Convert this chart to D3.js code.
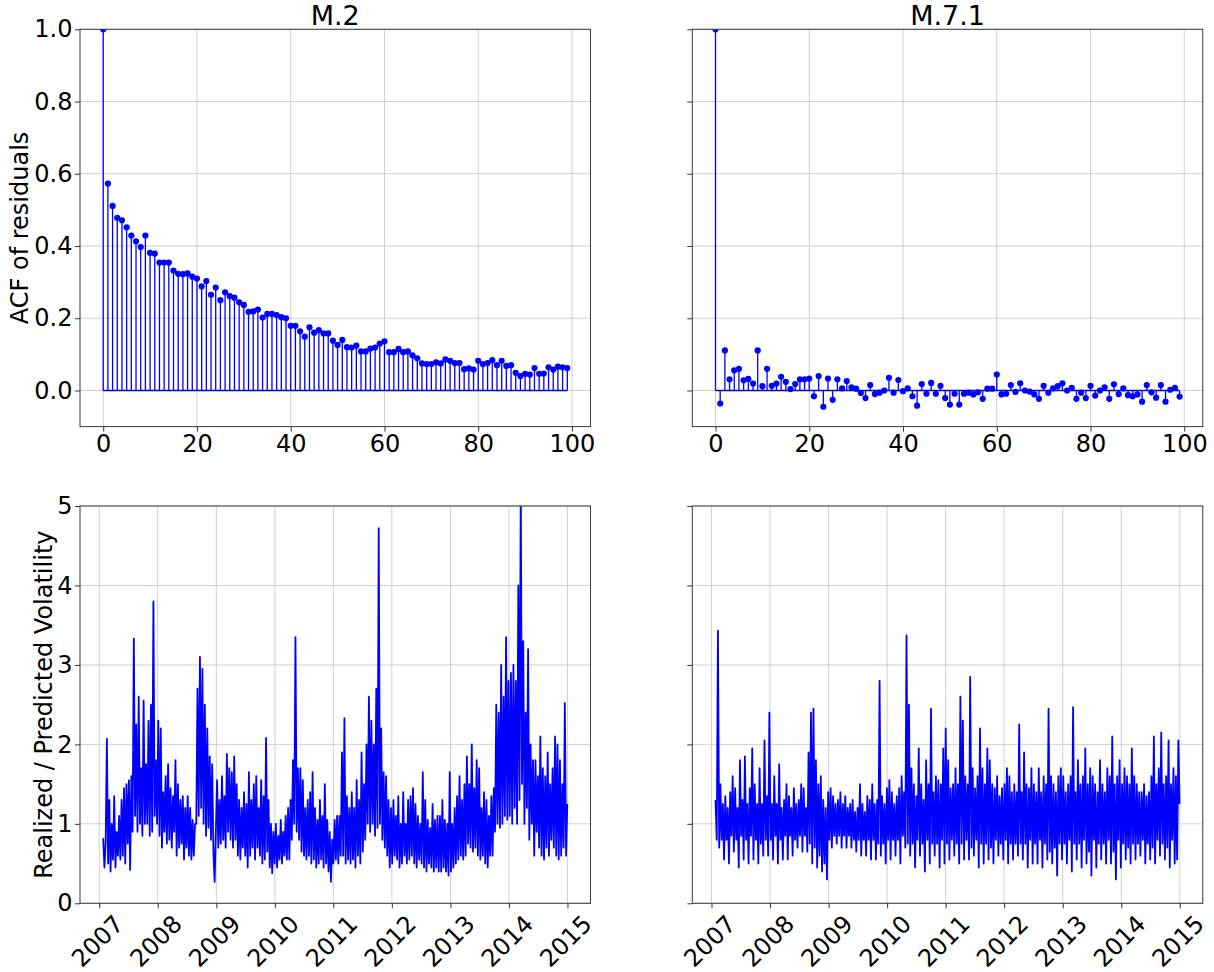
<!DOCTYPE html>
<html>
<head>
<meta charset="utf-8">
<script src="https://cdn.jsdelivr.net/npm/d3@7"></script>
<style>
  body { margin: 0; background: #fff; }
  text { font-family: "DejaVu Sans", sans-serif; fill: #000; }
</style>
</head>
<body>
<div id="chart"></div>
<script>
// ACF of residuals, lags 0..99
const acfM2 = [1.0, 0.573, 0.511, 0.478, 0.471, 0.452, 0.429, 0.413, 0.397, 0.429,
  0.381, 0.379, 0.354, 0.354, 0.354, 0.332, 0.323, 0.322, 0.324, 0.315,
  0.310, 0.288, 0.303, 0.265, 0.285, 0.250, 0.272, 0.261, 0.257, 0.244,
  0.237, 0.218, 0.219, 0.224, 0.202, 0.212, 0.212, 0.209, 0.203, 0.200,
  0.179, 0.179, 0.164, 0.149, 0.175, 0.160, 0.167, 0.158, 0.158, 0.138,
  0.126, 0.140, 0.120, 0.119, 0.124, 0.108, 0.108, 0.116, 0.119, 0.130,
  0.136, 0.106, 0.106, 0.115, 0.106, 0.108, 0.097, 0.089, 0.075, 0.073,
  0.073, 0.078, 0.075, 0.086, 0.082, 0.076, 0.076, 0.059, 0.061, 0.058,
  0.082, 0.073, 0.076, 0.084, 0.070, 0.082, 0.068, 0.070, 0.049, 0.040,
  0.046, 0.044, 0.062, 0.046, 0.047, 0.064, 0.058, 0.066, 0.064, 0.062];

const acfM71 = [1.0, -0.036, 0.111, 0.031, 0.056, 0.060, 0.028, 0.032, 0.019, 0.111,
  0.012, 0.060, 0.013, 0.019, 0.038, 0.024, 0.004, 0.018, 0.031, 0.031,
  0.033, -0.016, 0.040, -0.045, 0.033, -0.026, 0.031, 0.006, 0.026, 0.009,
  0.005, -0.007, -0.021, 0.015, -0.010, -0.006, 0.000, 0.035, -0.006, 0.029,
  -0.002, 0.006, -0.016, -0.042, 0.018, -0.009, 0.021, -0.009, 0.013, -0.021,
  -0.039, -0.009, -0.039, -0.009, -0.006, -0.011, -0.005, -0.023, 0.005, 0.005,
  0.044, -0.011, -0.009, 0.015, -0.004, 0.020, 0.000, -0.003, -0.011, -0.023,
  0.013, -0.006, 0.006, 0.012, 0.020, 0.000, 0.007, -0.023, -0.006, -0.021,
  0.013, -0.014, 0.000, 0.009, -0.023, 0.017, -0.010, 0.006, -0.013, -0.016,
  -0.011, -0.031, 0.015, -0.005, -0.020, 0.015, -0.031, 0.002, 0.007, -0.017];

// Realized / predicted volatility, about four readings per month, Feb 2007 .. Dec 2014
const volM2 = [
  // 2007
  0.82,0.45,0.75,2.07, 0.5,1.3,0.4,1.0, 0.55,1.35,0.45,0.9, 0.6,1.1,0.55,1.3, 0.6,1.45,0.5,1.5, 0.75,1.55,0.42,1.6,
  0.9,3.33,1.1,2.25, 0.9,2.6,1.0,1.7, 0.85,2.55,1.0,1.75, 1.0,2.3,0.85,2.5, 0.9,3.8,1.1,1.8,
  // 2008
  1.0,2.3,0.85,2.2, 0.7,1.4,0.9,1.6, 0.75,1.75,0.8,1.45, 0.7,1.35,0.9,1.8, 0.6,1.5,0.7,1.3, 0.75,1.35,0.55,1.2,
  0.7,1.35,0.6,1.2, 0.55,1.05,0.6,1.0, 1.0,2.7,1.1,3.1, 1.2,2.95,1.0,2.5, 0.85,2.2,0.95,1.85, 0.8,1.75,0.65,0.27,
  // 2009
  0.9,1.55,0.7,1.3, 0.75,1.6,0.8,1.35, 0.7,1.88,0.9,1.7, 0.8,1.65,0.7,1.85, 0.8,1.5,0.6,1.3, 0.55,1.2,0.7,1.4,
  0.6,1.25,0.45,1.65, 0.6,1.3,0.7,1.5, 0.55,1.6,0.7,1.2, 0.6,1.55,0.5,1.35, 0.55,2.08,0.65,1.3, 0.45,1.0,0.38,0.9,
  // 2010
  0.5,1.0,0.45,0.85, 0.55,1.05,0.5,0.9, 0.6,1.1,0.55,1.2, 0.55,1.3,0.8,1.8, 1.0,3.35,0.9,1.7, 0.8,1.7,0.65,1.55,
  0.6,1.2,0.55,1.3, 0.6,1.4,0.5,1.65, 0.55,1.2,0.45,1.05, 0.5,1.3,0.55,1.1, 0.45,1.5,0.5,1.05, 0.4,0.9,0.27,0.8,
  // 2011
  0.5,1.05,0.55,1.1, 0.5,1.1,0.6,1.9, 0.6,2.33,0.5,1.35, 0.55,1.2,0.5,1.4, 0.55,1.2,0.45,1.55, 0.6,1.3,0.5,1.9,
  0.65,1.5,0.8,2.0, 1.0,2.6,0.9,2.3, 1.0,2.0,0.85,2.7, 0.95,4.72,1.0,2.2, 0.8,1.65,0.7,1.6, 0.6,1.3,0.45,1.2,
  // 2012
  0.5,1.3,0.6,1.1, 0.55,1.35,0.45,1.0, 0.5,1.4,0.6,1.0, 0.5,1.3,0.55,1.35, 0.6,1.45,0.5,1.25, 0.45,1.1,0.55,1.0,
  0.5,1.65,0.45,1.3, 0.4,1.05,0.5,0.95, 0.45,1.25,0.4,1.05, 0.45,1.1,0.4,1.1, 0.4,1.3,0.45,1.05, 0.4,1.0,0.35,1.65,
  // 2013
  0.4,1.0,0.45,1.2, 0.5,1.35,0.55,1.6, 0.6,1.3,0.55,1.5, 0.6,1.85,0.75,1.5, 0.7,2.0,0.65,1.45, 0.7,1.8,0.6,1.7,
  0.55,1.2,0.6,1.4, 0.5,1.3,0.45,1.1, 0.6,1.35,0.6,1.45, 0.9,2.5,1.0,2.4, 0.95,3.0,1.0,2.6, 1.1,3.35,1.05,2.8,
  // 2014
  1.1,2.9,1.0,3.0, 1.2,2.8,1.0,4.0, 1.3,5.3,1.5,3.3, 1.0,2.4,1.2,3.2, 0.8,2.0,1.0,1.8, 0.6,1.8,0.9,1.6,
  0.7,2.1,0.6,1.7, 0.55,1.6,0.7,1.9, 0.6,1.5,0.8,1.7, 0.7,2.1,0.6,2.0, 0.55,1.8,0.6,1.5, 0.7,2.52,0.6,1.25
];

const volM71 = [
  // 2007
  1.3,0.8,3.43,0.7, 1.5,0.8,1.25,0.55, 1.35,0.8,1.2,0.5, 1.4,0.85,1.6,0.65, 1.45,0.8,1.2,0.45, 1.8,0.85,1.3,0.55,
  1.85,0.8,1.25,0.5, 1.45,0.85,1.95,0.55, 1.5,0.8,1.25,0.5, 1.7,0.75,1.25,0.6, 2.05,0.8,1.35,0.6,
  // 2008
  2.4,0.8,1.25,0.55, 1.6,0.85,1.25,0.5, 1.75,0.8,1.2,0.55, 1.3,0.85,1.5,0.55, 1.35,0.85,1.2,0.6, 1.45,0.8,1.25,0.7,
  1.3,0.85,1.5,0.65, 1.45,0.85,1.2,0.65, 1.9,0.75,2.4,0.5, 2.45,0.7,1.8,0.45, 1.5,0.6,1.6,0.4, 1.3,0.5,1.2,0.3,
  // 2009
  1.4,0.8,1.45,0.7, 1.35,0.85,1.25,0.75, 1.3,0.85,1.4,0.7, 1.25,0.85,1.35,0.7, 1.2,0.85,1.25,0.7, 1.3,0.8,1.15,0.65,
  1.2,0.8,1.5,0.6, 1.25,0.8,1.15,0.6, 1.35,0.8,1.3,0.55, 1.5,0.8,1.25,0.55, 1.3,0.75,2.8,0.6, 1.35,0.75,1.25,0.5,
  // 2010
  1.45,0.8,1.55,0.55, 1.4,0.8,1.25,0.6, 1.35,0.8,1.45,0.5, 1.6,0.85,1.4,0.7, 3.37,0.75,2.5,0.6, 1.7,0.75,1.5,0.45,
  1.35,0.8,1.95,0.6, 1.5,0.75,1.3,0.4, 1.8,0.8,1.5,0.5, 2.45,0.75,1.4,0.6, 1.6,0.75,1.55,0.45, 1.5,0.8,1.95,0.5,
  // 2011
  2.2,0.75,1.8,0.55, 1.45,0.8,1.5,0.6, 1.7,0.75,1.5,0.5, 2.6,0.75,2.3,0.55, 1.6,0.8,1.5,0.55, 2.85,0.7,1.7,0.6,
  1.45,0.8,1.6,0.45, 2.2,0.75,1.7,0.5, 1.5,0.75,1.95,0.55, 1.8,0.7,1.5,0.5, 1.45,0.8,1.6,0.6, 1.35,0.75,1.45,0.55,
  // 2012
  1.5,0.8,1.7,0.5, 1.6,0.75,1.4,0.55, 1.5,0.75,1.4,0.6, 2.25,0.75,1.4,0.55, 1.9,0.75,1.5,0.45, 1.45,0.8,1.7,0.5,
  1.5,0.75,1.4,0.5, 1.7,0.8,1.4,0.45, 1.6,0.75,1.5,0.55, 2.45,0.65,1.6,0.5, 1.5,0.7,1.4,0.35, 1.6,0.75,1.7,0.55,
  // 2013
  1.6,0.75,1.4,0.5, 1.5,0.8,1.6,0.4, 2.47,0.75,1.4,0.55, 1.8,0.75,1.5,0.45, 1.6,0.8,1.95,0.5, 1.5,0.65,1.7,0.35,
  1.6,0.8,1.5,0.45, 1.4,0.75,1.8,0.55, 1.5,0.75,1.4,0.5, 1.7,0.8,1.6,0.5, 2.1,0.65,1.5,0.3, 1.6,0.8,1.8,0.45,
  // 2014
  1.5,0.75,1.7,0.55, 1.6,0.7,1.5,0.5, 1.95,0.75,1.6,0.55, 1.5,0.75,1.4,0.6, 1.4,0.8,1.5,0.5, 1.35,0.75,1.4,0.55,
  1.6,0.7,2.1,0.5, 1.5,0.8,1.7,0.6, 2.15,0.75,1.5,0.55, 1.6,0.7,2.05,0.45, 1.5,0.8,1.7,0.5, 1.6,0.55,2.05,1.25
];

const seriesStart = new Date(2007, 0, 26);
const seriesEnd = new Date(2014, 11, 31);

const titles = ["M.2", "M.7.1"];
const acfXTicks = [0, 20, 40, 60, 80, 100];
const acfYTicks = [0.0, 0.2, 0.4, 0.6, 0.8, 1.0];
const volYTicks = [0, 1, 2, 3, 4, 5];
const yearTicks = [2007, 2008, 2009, 2010, 2011, 2012, 2013, 2014, 2015];

const W = 1214, H = 972;
const cols = [80, 692.3], panelW = 510.5;
const rows = [29.3, 506], panelH = 397.3;
const blue = "#0000ff";
const tickFont = "24px";

const svg = d3.select("#chart").append("svg")
  .attr("width", W).attr("height", H);

function styleAxis(g, showLabels) {
  g.select(".domain").remove();
  g.selectAll(".tick line").attr("stroke", "#333").attr("stroke-width", 1);
  g.selectAll(".tick text").style("font-size", tickFont).attr("fill", "#000");
  if (!showLabels) g.selectAll(".tick text").remove();
}

function frame(g, id, x0, y0) {
  g.append("clipPath").attr("id", id)
    .append("rect").attr("x", x0).attr("y", y0).attr("width", panelW).attr("height", panelH);
}

function spines(g, x0, y0) {
  g.append("rect").attr("x", x0).attr("y", y0).attr("width", panelW).attr("height", panelH)
    .attr("fill", "none").attr("stroke", "#3a3a3a").attr("stroke-width", 1);
}

// ---- ACF panels
[acfM2, acfM71].forEach((acf, c) => {
  const x0 = cols[c], y0 = rows[0];
  const g = svg.append("g");
  const lags = d3.range(acf.length);
  const x = d3.scaleLinear().domain([-4.95, 103.95]).range([x0, x0 + panelW]);
  const y = d3.scaleLinear().domain([-0.1, 1.0]).range([y0 + panelH, y0]);
  frame(g, "clipAcf" + c, x0, y0);

  // grid
  g.append("g").selectAll("line").data(acfXTicks).join("line")
    .attr("x1", d => x(d)).attr("x2", d => x(d)).attr("y1", y0).attr("y2", y0 + panelH)
    .attr("stroke", "#d0d0d0").attr("stroke-width", 1);
  g.append("g").selectAll("line").data(acfYTicks).join("line")
    .attr("x1", x0).attr("x2", x0 + panelW).attr("y1", d => y(d)).attr("y2", d => y(d))
    .attr("stroke", "#d0d0d0").attr("stroke-width", 1);

  const plot = g.append("g").attr("clip-path", `url(#clipAcf${c})`);
  plot.selectAll(".stem").data(lags).join("line").attr("class", "stem")
    .attr("x1", d => x(d)).attr("x2", d => x(d))
    .attr("y1", y(0)).attr("y2", d => y(acf[d]))
    .attr("stroke", blue).attr("stroke-width", 1.3);
  plot.append("line")
    .attr("x1", x(0)).attr("x2", x(lags.length - 1)).attr("y1", y(0)).attr("y2", y(0))
    .attr("stroke", blue).attr("stroke-width", 1.5);
  plot.selectAll(".mk").data(lags).join("circle").attr("class", "mk")
    .attr("cx", d => x(d)).attr("cy", d => y(acf[d])).attr("r", 3.1)
    .attr("fill", blue);

  spines(g, x0, y0);

  g.append("g").attr("transform", `translate(0,${y0 + panelH})`)
    .call(d3.axisBottom(x).tickValues(acfXTicks).tickFormat(d3.format("d")).tickSize(5).tickPadding(3.5))
    .call(a => styleAxis(a, true));
  g.append("g").attr("transform", `translate(${x0},0)`)
    .call(d3.axisLeft(y).tickValues(acfYTicks).tickFormat(d3.format(".1f")).tickSize(5).tickPadding(2.5))
    .call(a => styleAxis(a, c === 0));

  svg.append("text").attr("x", x0 + panelW / 2).attr("y", 25)
    .attr("text-anchor", "middle").style("font-size", "27px").text(titles[c]);
});

// ---- volatility panels
const x0Date = new Date(seriesStart.getTime() - 0.05 * (seriesEnd - seriesStart));
const x1Date = new Date(seriesEnd.getTime() + 0.05 * (seriesEnd - seriesStart));

[volM2, volM71].forEach((vals, c) => {
  const x0 = cols[c], y0 = rows[1];
  const g = svg.append("g");
  const step = (seriesEnd - seriesStart) / (vals.length - 1);
  const pts = vals.map((v, i) => ({ date: new Date(seriesStart.getTime() + i * step), v: v }));
  const x = d3.scaleTime().domain([x0Date, x1Date]).range([x0, x0 + panelW]);
  const y = d3.scaleLinear().domain([0, 5]).range([y0 + panelH, y0]);
  const years = yearTicks.map(yr => new Date(yr, 0, 1));
  frame(g, "clipVol" + c, x0, y0);

  g.append("g").selectAll("line").data(years).join("line")
    .attr("x1", d => x(d)).attr("x2", d => x(d)).attr("y1", y0).attr("y2", y0 + panelH)
    .attr("stroke", "#d0d0d0").attr("stroke-width", 1);
  g.append("g").selectAll("line").data(volYTicks).join("line")
    .attr("x1", x0).attr("x2", x0 + panelW).attr("y1", d => y(d)).attr("y2", d => y(d))
    .attr("stroke", "#d0d0d0").attr("stroke-width", 1);

  g.append("g").attr("clip-path", `url(#clipVol${c})`)
    .append("path").datum(pts)
    .attr("d", d3.line().x(d => x(d.date)).y(d => y(d.v)))
    .attr("fill", "none").attr("stroke", blue).attr("stroke-width", 1.8)
    .attr("stroke-linejoin", "round");

  spines(g, x0, y0);

  const xa = g.append("g").attr("transform", `translate(0,${y0 + panelH})`)
    .call(d3.axisBottom(x).tickValues(years).tickFormat(d3.timeFormat("%Y")).tickSize(5))
    .call(a => styleAxis(a, true));
  xa.selectAll(".tick text")
    .attr("y", 0).attr("dy", null)
    .attr("text-anchor", "middle").attr("dominant-baseline", "central")
    .attr("transform", "translate(-2,38) rotate(-45)");

  g.append("g").attr("transform", `translate(${x0},0)`)
    .call(d3.axisLeft(y).tickValues(volYTicks).tickFormat(d3.format("d")).tickSize(5).tickPadding(2.5))
    .call(a => styleAxis(a, c === 0));
});

// y labels
svg.append("text").attr("transform", `translate(27.5,${rows[0] + panelH / 2}) rotate(-90)`)
  .attr("text-anchor", "middle").style("font-size", "24px").text("ACF of residuals");
svg.append("text").attr("transform", `translate(52,${rows[1] + panelH / 2}) rotate(-90)`)
  .attr("text-anchor", "middle").style("font-size", "24px").text("Realized / Predicted Volatility");
</script>
</body>
</html>
